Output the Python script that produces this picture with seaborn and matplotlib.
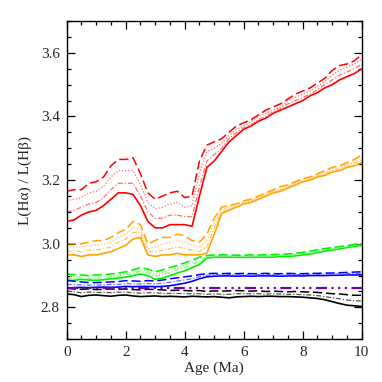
import numpy as np
import pandas as pd
import matplotlib
matplotlib.use("Agg")
import matplotlib.pyplot as plt
import seaborn as sns
from matplotlib.ticker import MultipleLocator

age = [0, 0.25, 0.5, 0.75, 1.0, 1.25, 1.5, 1.75, 2.0, 2.25, 2.5, 2.75, 3.0, 3.25,
       3.5, 3.75, 4.0, 4.25, 4.5, 4.75, 5.0, 5.25, 5.5, 5.75, 6.0, 6.25, 6.5, 6.75,
       7.0, 7.25, 7.5, 7.75, 8.0, 8.25, 8.5, 8.75, 9.0, 9.25, 9.5, 9.75, 10.0]

red_low = [3.07, 3.075, 3.09, 3.10, 3.105, 3.12, 3.14, 3.16, 3.16, 3.155, 3.12, 3.07, 3.05, 3.05,
           3.06, 3.06, 3.06, 3.055, 3.15, 3.24, 3.26, 3.29, 3.32, 3.34, 3.36, 3.37, 3.385, 3.395,
           3.41, 3.42, 3.43, 3.44, 3.45, 3.465, 3.475, 3.49, 3.50, 3.515, 3.525, 3.535, 3.55]
red_midA = [3.10, 3.105, 3.115, 3.125, 3.13, 3.145, 3.17, 3.19, 3.19, 3.19, 3.15, 3.10, 3.08, 3.08,
            3.09, 3.09, 3.085, 3.085, 3.18, 3.26, 3.28, 3.30, 3.33, 3.35, 3.365, 3.375, 3.39, 3.40,
            3.415, 3.425, 3.44, 3.45, 3.46, 3.47, 3.485, 3.50, 3.515, 3.53, 3.54, 3.55, 3.565]
red_midB = [3.135, 3.14, 3.145, 3.16, 3.165, 3.18, 3.21, 3.23, 3.23, 3.23, 3.185, 3.13, 3.11, 3.115,
            3.125, 3.13, 3.115, 3.12, 3.22, 3.29, 3.30, 3.315, 3.34, 3.36, 3.37, 3.385, 3.40, 3.41,
            3.42, 3.43, 3.45, 3.46, 3.47, 3.48, 3.495, 3.51, 3.53, 3.545, 3.555, 3.565, 3.58]
red_up = [3.165, 3.17, 3.17, 3.19, 3.195, 3.21, 3.245, 3.265, 3.265, 3.27, 3.22, 3.16, 3.14, 3.15,
          3.16, 3.165, 3.145, 3.15, 3.26, 3.31, 3.32, 3.33, 3.35, 3.37, 3.38, 3.39, 3.405, 3.42,
          3.43, 3.44, 3.455, 3.47, 3.48, 3.49, 3.505, 3.52, 3.545, 3.56, 3.565, 3.575, 3.595]

orange_low = [2.965, 2.965, 2.96, 2.965, 2.965, 2.97, 2.975, 2.985, 2.995, 3.015, 3.02, 2.965, 2.96, 2.965,
              2.965, 2.97, 2.965, 2.965, 2.965, 2.97, 3.03, 3.095, 3.105, 3.115, 3.125, 3.13, 3.14, 3.15,
              3.16, 3.165, 3.175, 3.185, 3.195, 3.20, 3.21, 3.215, 3.225, 3.23, 3.24, 3.245, 3.255]
orange_midA = [2.975, 2.978, 2.975, 2.98, 2.98, 2.985, 2.99, 3.005, 3.015, 3.035, 3.035, 2.975, 2.975, 2.98,
               2.985, 2.99, 2.985, 2.98, 2.975, 2.99, 3.05, 3.10, 3.11, 3.118, 3.128, 3.134, 3.144, 3.154,
               3.164, 3.17, 3.179, 3.189, 3.199, 3.204, 3.214, 3.22, 3.23, 3.236, 3.246, 3.253, 3.264]
orange_midB = [2.99, 2.99, 2.99, 2.993, 2.995, 3.0, 3.005, 3.02, 3.03, 3.05, 3.045, 2.985, 2.99, 3.0,
               3.005, 3.01, 3.005, 2.995, 2.99, 3.01, 3.065, 3.108, 3.115, 3.121, 3.131, 3.137, 3.147, 3.157,
               3.167, 3.175, 3.182, 3.192, 3.202, 3.207, 3.217, 3.225, 3.235, 3.24, 3.25, 3.259, 3.272]
orange_up = [3.00, 3.00, 3.00, 3.005, 3.01, 3.01, 3.02, 3.035, 3.045, 3.07, 3.06, 3.00, 3.01, 3.02,
             3.02, 3.03, 3.025, 3.01, 3.005, 3.03, 3.08, 3.115, 3.12, 3.125, 3.135, 3.14, 3.15, 3.16,
             3.17, 3.18, 3.185, 3.195, 3.205, 3.21, 3.22, 3.23, 3.24, 3.245, 3.255, 3.265, 3.28]

green_low = [2.885, 2.885, 2.888, 2.886, 2.885, 2.887, 2.89, 2.892, 2.895, 2.90, 2.905, 2.90, 2.888, 2.892,
             2.90, 2.908, 2.915, 2.925, 2.935, 2.955, 2.958, 2.958, 2.958, 2.958, 2.957, 2.958, 2.958, 2.958,
             2.958, 2.96, 2.96, 2.962, 2.965, 2.968, 2.972, 2.977, 2.98, 2.984, 2.988, 2.992, 2.995]
green_midA = [2.892, 2.89, 2.893, 2.891, 2.892, 2.893, 2.896, 2.898, 2.902, 2.907, 2.913, 2.908, 2.898, 2.903,
              2.91, 2.918, 2.925, 2.935, 2.945, 2.958, 2.961, 2.961, 2.961, 2.96, 2.96, 2.961, 2.961, 2.961,
              2.962, 2.963, 2.964, 2.966, 2.969, 2.972, 2.976, 2.981, 2.984, 2.987, 2.991, 2.995, 2.997]
green_midB = [2.898, 2.897, 2.897, 2.896, 2.897, 2.898, 2.90, 2.903, 2.907, 2.912, 2.918, 2.914, 2.905, 2.91,
              2.917, 2.925, 2.933, 2.942, 2.952, 2.96, 2.963, 2.963, 2.963, 2.962, 2.962, 2.963, 2.963, 2.963,
              2.964, 2.965, 2.966, 2.968, 2.971, 2.975, 2.979, 2.983, 2.986, 2.989, 2.993, 2.997, 2.999]
green_up = [2.905, 2.903, 2.902, 2.90, 2.902, 2.903, 2.905, 2.908, 2.912, 2.918, 2.925, 2.92, 2.912, 2.918,
            2.925, 2.932, 2.94, 2.948, 2.958, 2.963, 2.965, 2.965, 2.965, 2.964, 2.964, 2.965, 2.965, 2.965,
            2.966, 2.967, 2.968, 2.97, 2.973, 2.977, 2.981, 2.985, 2.988, 2.991, 2.994, 2.998, 3.0]

blue_low = [2.86, 2.862, 2.863, 2.862, 2.863, 2.864, 2.863, 2.864, 2.866, 2.865, 2.866, 2.866, 2.865, 2.866,
            2.868, 2.872, 2.876, 2.882, 2.89, 2.896, 2.898, 2.899, 2.899, 2.898, 2.899, 2.898, 2.899, 2.899,
            2.899, 2.898, 2.899, 2.899, 2.899, 2.90, 2.90, 2.90, 2.901, 2.901, 2.902, 2.902, 2.902]
blue_mid = [2.872, 2.872, 2.871, 2.87, 2.87, 2.871, 2.872, 2.872, 2.875, 2.874, 2.874, 2.875, 2.874, 2.876,
            2.879, 2.883, 2.886, 2.89, 2.896, 2.901, 2.903, 2.902, 2.903, 2.902, 2.903, 2.902, 2.903, 2.903,
            2.903, 2.902, 2.903, 2.903, 2.903, 2.904, 2.904, 2.904, 2.905, 2.905, 2.906, 2.907, 2.907]
blue_up = [2.885, 2.882, 2.88, 2.878, 2.878, 2.879, 2.88, 2.881, 2.884, 2.883, 2.882, 2.884, 2.883, 2.886,
           2.89, 2.893, 2.896, 2.899, 2.903, 2.906, 2.907, 2.906, 2.907, 2.906, 2.907, 2.906, 2.906, 2.907,
           2.906, 2.906, 2.907, 2.906, 2.906, 2.907, 2.907, 2.908, 2.908, 2.909, 2.91, 2.911, 2.912]

black_low = [2.842, 2.84, 2.834, 2.838, 2.839, 2.837, 2.835, 2.838, 2.839, 2.836, 2.834, 2.835, 2.836, 2.834,
             2.835, 2.834, 2.833, 2.835, 2.834, 2.833, 2.834, 2.832, 2.83, 2.833, 2.834, 2.835, 2.834, 2.835,
             2.835, 2.834, 2.834, 2.833, 2.832, 2.83, 2.828, 2.824, 2.818, 2.812, 2.807, 2.805, 2.803]
black_mid = [2.851, 2.849, 2.846, 2.848, 2.847, 2.847, 2.846, 2.848, 2.848, 2.846, 2.845, 2.846, 2.846, 2.844,
             2.844, 2.844, 2.843, 2.843, 2.843, 2.841, 2.843, 2.841, 2.841, 2.843, 2.843, 2.843, 2.843, 2.842,
             2.843, 2.842, 2.841, 2.841, 2.84, 2.839, 2.837, 2.834, 2.83, 2.827, 2.823, 2.821, 2.82]
black_up = [2.86, 2.858, 2.857, 2.858, 2.856, 2.857, 2.858, 2.857, 2.858, 2.856, 2.855, 2.857, 2.856, 2.855,
            2.853, 2.854, 2.853, 2.852, 2.853, 2.85, 2.852, 2.851, 2.852, 2.853, 2.852, 2.851, 2.852, 2.85,
            2.851, 2.85, 2.849, 2.85, 2.849, 2.848, 2.847, 2.845, 2.843, 2.842, 2.84, 2.838, 2.838]

ref_level = 2.86
ref_age = [0.0, 10.0]

sns.set_style("ticks")
plt.rcParams['font.family'] = ['Liberation Serif', 'DejaVu Serif']
plt.rcParams['mathtext.fontset'] = 'stix'

fig = plt.figure(figsize=(3.82, 3.82), dpi=100)
ax = fig.add_axes([0.1746, 0.112, 0.7724, 0.833])

groups = [
    ("#ff0000", "#ff6e6e", [red_low, red_midA, red_midB, red_up]),
    ("#ffa500", "#ffc45a", [orange_low, orange_midA, orange_midB, orange_up]),
    ("#00ee00", "#7af57a", [green_low, green_midA, green_midB, green_up]),
    ("#0000ff", "#6a6aff", [blue_low, blue_mid, blue_up]),
    ("#000000", "#555555", [black_low, black_mid, black_up]),
]

for main_c, light_c, series in groups:
    n = len(series)
    for i, vals in enumerate(series):
        if i == 0:
            ls, c, lw = "-", main_c, 1.2
        elif i == n - 1:
            ls, c, lw = (0, (6, 2.5)), main_c, 1.1
        elif i == 1:
            ls, c, lw = (0, (4, 1.5, 1, 1.5)), light_c, 0.9
        else:
            ls, c, lw = (0, (1, 1.5)), light_c, 0.9
        df = pd.DataFrame({"age": age, "ratio": vals})
        sns.lineplot(data=df, x="age", y="ratio", ax=ax, color=c, linestyle=ls,
                     linewidth=lw, estimator=None, sort=True, legend=False)

sns.lineplot(x=ref_age, y=[ref_level, ref_level], ax=ax, color="#6a00c0",
             linestyle=(0, (5, 2, 1, 2, 1, 2, 1, 2)), linewidth=1.6, legend=False)

ax.set_xlim(0, 10)
ax.set_ylim(2.7, 3.7)
ax.xaxis.set_major_locator(MultipleLocator(2))
ax.xaxis.set_minor_locator(MultipleLocator(0.5))
ax.yaxis.set_major_locator(MultipleLocator(0.2))
ax.yaxis.set_minor_locator(MultipleLocator(0.05))
ax.tick_params(which="both", direction="in", top=True, right=True, labelsize=11,
               color="black", width=0.9)
ax.tick_params(which="major", length=6, pad=5)
ax.tick_params(which="minor", length=3)
ax.yaxis.set_major_formatter(matplotlib.ticker.FormatStrFormatter("%.1f"))
for s in ax.spines.values():
    s.set_linewidth(1.0)
    s.set_color("black")

ax.set_xlabel("Age (Ma)", fontsize=11, labelpad=2)
ax.set_ylabel("L(Hα) / L(Hβ)", fontsize=11, labelpad=6)

fig.savefig("out.png", dpi=100)
